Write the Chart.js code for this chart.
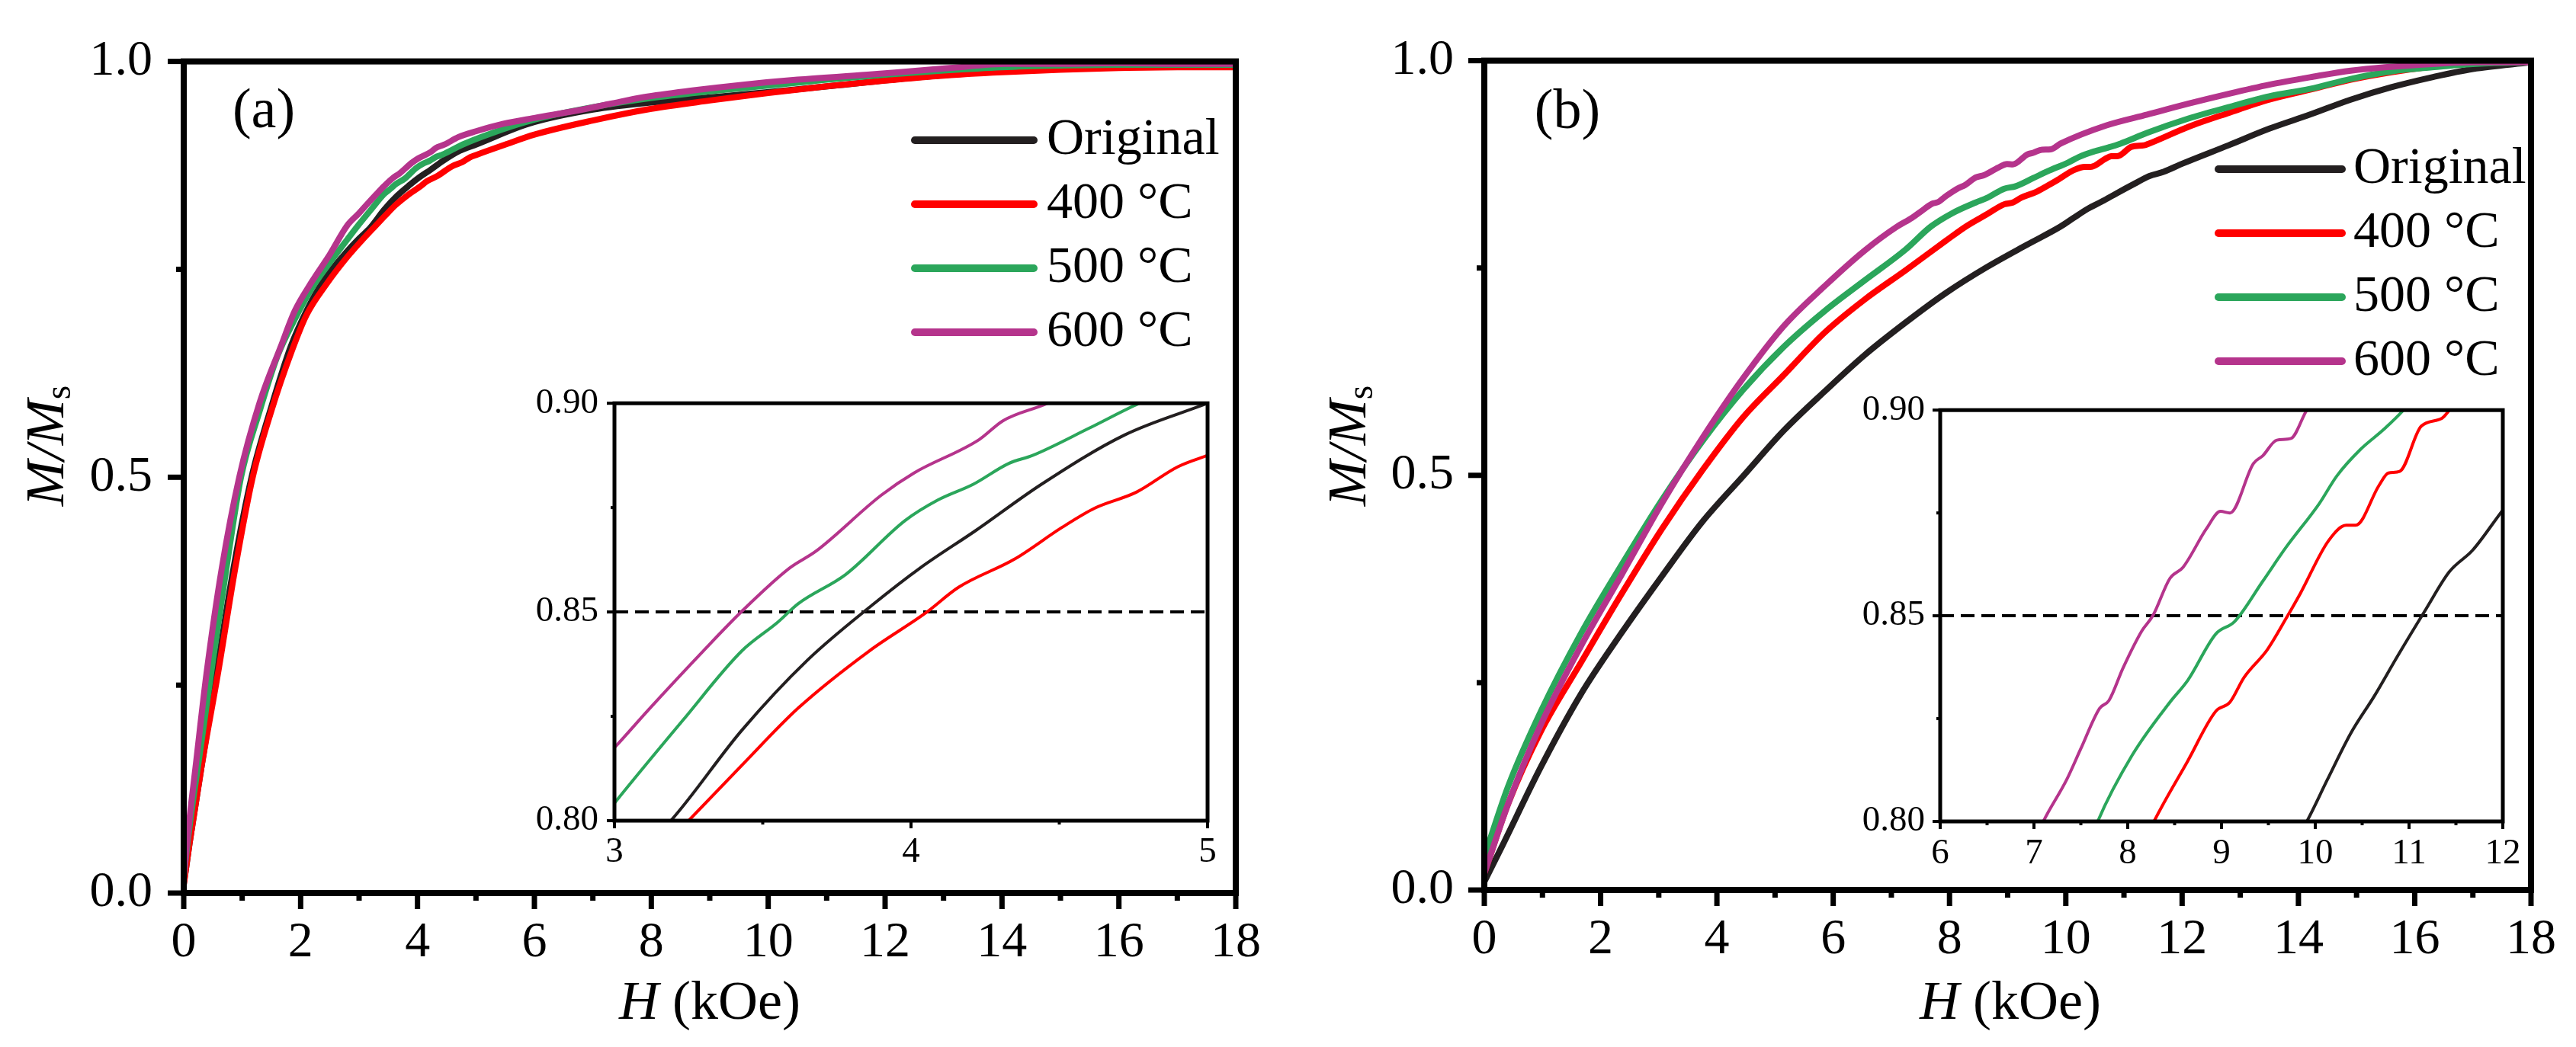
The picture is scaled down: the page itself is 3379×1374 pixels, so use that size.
<!DOCTYPE html>
<html><head><meta charset="utf-8">
<script src="https://cdn.jsdelivr.net/npm/chart.js@4.4.1/dist/chart.umd.min.js"></script>
<style>
html,body{margin:0;padding:0;background:#fff;width:3379px;height:1374px;overflow:hidden}
canvas{position:absolute}
</style></head><body>
<canvas id="ma" width="1700" height="1374" style="left:0px;top:0px;width:1700px;height:1374px"></canvas>
<canvas id="mb" width="1679" height="1374" style="left:1700px;top:0px;width:1679px;height:1374px"></canvas>
<canvas id="ia" width="950" height="700" style="left:670px;top:480px;width:950px;height:700px"></canvas>
<canvas id="ib" width="940" height="700" style="left:2390px;top:490px;width:940px;height:700px"></canvas>
<script>
// ---------- DATA ----------
const seriesLabels = ['Original', '400 \u00b0C', '500 \u00b0C', '600 \u00b0C'];
const seriesColors = ['#231f20', '#ff0000', '#2ba65b', '#b5348c'];

// Panel (a)
const Ha_orig = [0, 0.1, 0.3, 0.56, 0.85, 1.16, 1.5, 1.83, 2.1, 2.39, 2.8, 3.0, 3.19, 3.43, 3.65, 3.87, 4.03, 4.22, 4.44, 4.72, 5.0, 5.9, 7.0, 8.2, 9.2, 10.3, 11.3, 12.4, 13.5, 14.5, 15.5, 16.5, 17.5, 18];
const Ma_orig = [0.01, 0.06, 0.15, 0.264, 0.39, 0.5, 0.585, 0.657, 0.70, 0.736, 0.772, 0.787, 0.80, 0.8217, 0.8384, 0.8517, 0.8605, 0.8696, 0.8806, 0.8924, 0.90, 0.925, 0.942, 0.952, 0.958, 0.965, 0.972, 0.98, 0.986, 0.992, 0.994, 0.996, 0.996, 0.995];

const Ha_400 = [0, 0.1, 0.3, 0.6, 0.88, 1.18, 1.5, 1.85, 2.1, 2.45, 2.8, 3.05, 3.25, 3.43, 3.62, 3.86, 4.05, 4.16, 4.35, 4.51, 4.62, 4.76, 4.90, 5.0, 5.5, 6.0, 7.0, 8.0, 9.0, 10.0, 11.0, 12.0, 13.0, 14.0, 15.0, 16.0, 17.0, 18.0];
const Ma_400 = [0.01, 0.06, 0.15, 0.27, 0.39, 0.5, 0.58, 0.652, 0.695, 0.733, 0.765, 0.785, 0.80, 0.8133, 0.827, 0.8407, 0.8498, 0.8559, 0.8627, 0.8703, 0.8749, 0.8787, 0.8848, 0.8875, 0.90, 0.912, 0.929, 0.943, 0.953, 0.962, 0.97, 0.977, 0.983, 0.987, 0.99, 0.992, 0.993, 0.993];

const Ha_500 = [0, 0.1, 0.3, 0.5, 0.75, 0.98, 1.3, 1.6, 1.9, 2.2, 2.5, 2.8, 3.0, 3.23, 3.43, 3.55, 3.62, 3.78, 3.98, 4.09, 4.21, 4.33, 4.41, 4.6, 4.77, 5.2, 6.0, 7.0, 8.0, 9.0, 10.0, 11.0, 12.0, 13.0, 14.0, 15.0, 16.0, 17.0, 18.0];
const Ma_500 = [0.02, 0.08, 0.18, 0.28, 0.40, 0.5, 0.58, 0.645, 0.69, 0.728, 0.758, 0.786, 0.8042, 0.824, 0.8407, 0.8475, 0.852, 0.859, 0.8719, 0.8768, 0.8806, 0.8856, 0.8875, 0.894, 0.90, 0.912, 0.93, 0.945, 0.956, 0.964, 0.971, 0.978, 0.984, 0.989, 0.993, 0.995, 0.996, 0.996, 0.996];

const Ha_600 = [0, 0.1, 0.2, 0.39, 0.65, 0.95, 1.3, 1.66, 1.9, 2.2, 2.5, 2.8, 3.0, 3.115, 3.30, 3.43, 3.59, 3.68, 3.90, 4.01, 4.23, 4.31, 4.46, 4.7, 5.0, 5.47, 6.0, 6.74, 7.3, 7.87, 8.7, 9.57, 10.5, 11.7, 12.4, 13.1, 14.1, 15.0, 16.0, 17.0, 18.0];
const Ma_600 = [0.02, 0.09, 0.15, 0.264, 0.39, 0.5, 0.59, 0.657, 0.70, 0.736, 0.768, 0.803, 0.8175, 0.8266, 0.8407, 0.8502, 0.8605, 0.8646, 0.878, 0.8833, 0.8913, 0.8958, 0.90, 0.909, 0.916, 0.925, 0.932, 0.941, 0.949, 0.957, 0.965, 0.972, 0.978, 0.984, 0.988, 0.992, 0.997, 0.997, 0.998, 0.997, 0.997];

// Panel (b)
const Hb_orig = [0, 0.3, 0.97, 1.66, 2.36, 3.05, 3.75, 4.45, 5.15, 5.85, 6.54, 7.24, 7.94, 8.64, 9.33, 9.91, 10.13, 10.38, 10.63, 10.88, 11.18, 11.43, 11.68, 12.0, 12.8, 13.5, 14.2, 14.9, 15.6, 16.3, 17.0, 18.0];
const Mb_orig = [0.01, 0.052, 0.148, 0.236, 0.31, 0.378, 0.444, 0.499, 0.554, 0.601, 0.645, 0.684, 0.720, 0.751, 0.778, 0.80, 0.8102, 0.8215, 0.8305, 0.8403, 0.8516, 0.8607, 0.866, 0.8757, 0.898, 0.918, 0.935, 0.953, 0.968, 0.98, 0.99, 0.998];

const Hb_400 = [0, 0.41, 0.97, 1.66, 2.36, 3.06, 3.76, 4.45, 5.15, 5.85, 6.54, 7.24, 7.94, 8.28, 8.64, 8.94, 9.09, 9.24, 9.49, 9.69, 9.84, 10.14, 10.33, 10.43, 10.68, 10.78, 10.9, 11.13, 11.35, 11.43, 12.1, 12.8, 13.5, 14.2, 14.9, 15.6, 16.3, 17.0, 18.0];
const Mb_400 = [0.02, 0.104, 0.191, 0.274, 0.357, 0.436, 0.507, 0.57, 0.621, 0.672, 0.712, 0.747, 0.783, 0.80, 0.8147, 0.8268, 0.829, 0.835, 0.8418, 0.8494, 0.8554, 0.8682, 0.872, 0.872, 0.8817, 0.8847, 0.8851, 0.8961, 0.898, 0.90, 0.92, 0.937, 0.953, 0.965, 0.977, 0.986, 0.993, 0.998, 0.998];

const Hb_500 = [0, 0.41, 0.97, 1.66, 2.36, 3.06, 3.76, 4.45, 5.15, 5.85, 6.54, 7.24, 7.68, 8.05, 8.45, 8.64, 8.94, 9.14, 9.44, 9.69, 10.04, 10.23, 10.48, 10.73, 10.94, 11.4, 12.1, 12.8, 13.5, 14.2, 14.9, 15.6, 16.3, 17.0, 18.0];
const Mb_500 = [0.04, 0.125, 0.215, 0.309, 0.392, 0.471, 0.542, 0.603, 0.655, 0.698, 0.735, 0.772, 0.80, 0.8162, 0.829, 0.8343, 0.8456, 0.8486, 0.8584, 0.8667, 0.8772, 0.884, 0.8904, 0.8953, 0.90, 0.913, 0.93, 0.944, 0.957, 0.966, 0.978, 0.987, 0.992, 0.996, 0.998];

const Hb_600 = [0, 0.41, 0.97, 1.66, 2.36, 3.06, 3.76, 4.45, 5.15, 5.85, 6.54, 7.10, 7.35, 7.50, 7.70, 7.80, 7.95, 8.15, 8.27, 8.45, 8.59, 8.84, 8.99, 9.09, 9.34, 9.44, 9.59, 9.74, 9.91, 10.7, 11.4, 12.1, 12.8, 13.5, 14.2, 14.9, 16.3, 17.0, 18.0];
const Mb_600 = [0.02, 0.104, 0.199, 0.294, 0.38, 0.467, 0.546, 0.617, 0.68, 0.728, 0.771, 0.80, 0.8102, 0.8177, 0.8275, 0.8294, 0.8373, 0.8463, 0.8501, 0.8591, 0.8618, 0.8712, 0.8754, 0.875, 0.887, 0.8889, 0.8927, 0.8931, 0.90, 0.922, 0.935, 0.948, 0.96, 0.971, 0.98, 0.988, 0.996, 0.998, 0.998];

// Axis ranges / reference level
const mainXRange = [0, 18];
const mainYRange = [0, 1];
const insetAXRange = [3, 5];
const insetBXRange = [6, 12];
const insetYRange = [0.80, 0.90];
const refLevel = 0.85;

// ---------- RENDER ----------
const FONT = "'Liberation Serif','Times New Roman',serif";
Chart.defaults.font.family = FONT;
Chart.defaults.color = '#000';

function pts(H, M) { return H.map((h, i) => ({ x: h, y: M[i] })); }

function makeDatasets(sets, width) {
  return sets.map((s, i) => ({
    label: seriesLabels[i],
    data: pts(s[0], s[1]),
    borderColor: seriesColors[i],
    backgroundColor: seriesColors[i],
    borderWidth: width,
    pointRadius: 0,
    fill: false,
    cubicInterpolationMode: 'monotone',
    order: 4 - i
  }));
}

const setsA = [[Ha_orig, Ma_orig], [Ha_400, Ma_400], [Ha_500, Ma_500], [Ha_600, Ma_600]];
const setsB = [[Hb_orig, Mb_orig], [Hb_400, Mb_400], [Hb_500, Mb_500], [Hb_600, Mb_600]];

function drawRich(ctx, segs, size, x, y, rotate) {
  ctx.save();
  ctx.translate(x, y);
  if (rotate) ctx.rotate(-Math.PI / 2);
  ctx.textBaseline = 'middle';
  ctx.textAlign = 'left';
  ctx.fillStyle = '#000';
  let total = 0;
  const ms = segs.map(s => {
    const sz = s.sub ? size * 0.66 : size;
    ctx.font = (s.italic ? 'italic ' : '') + sz + 'px ' + FONT;
    const w = ctx.measureText(s.t).width;
    total += w;
    return { s, sz, w };
  });
  let cx = -total / 2;
  ms.forEach(m => {
    ctx.font = (m.s.italic ? 'italic ' : '') + m.sz + 'px ' + FONT;
    ctx.fillText(m.s.t, cx, m.s.sub ? size * 0.22 : 0);
    cx += m.w;
  });
  ctx.restore();
}

const deco = {
  id: 'deco',
  beforeDraw(chart, args, o) {
    if (o.fillArea) {
      const a = chart.chartArea, ctx = chart.ctx;
      ctx.save(); ctx.fillStyle = '#fff';
      ctx.fillRect(a.left, a.top, a.right - a.left, a.bottom - a.top);
      ctx.restore();
    }
  },
  afterDraw(chart, args, o) {
    const ctx = chart.ctx, a = chart.chartArea;
    const xs = chart.scales.x, ys = chart.scales.y;
    ctx.save();
    ctx.strokeStyle = '#000';
    ctx.lineWidth = o.tickWidth;
    ctx.lineCap = 'butt';
    xs.ticks.forEach(t => {
      const p = xs.getPixelForValue(t.value);
      const L = (t.label !== '' ? o.major : o.minor);
      ctx.beginPath(); ctx.moveTo(p, a.bottom); ctx.lineTo(p, a.bottom + L); ctx.stroke();
    });
    ys.ticks.forEach(t => {
      const p = ys.getPixelForValue(t.value);
      const L = (t.label !== '' ? o.major : o.minor);
      ctx.beginPath(); ctx.moveTo(a.left, p); ctx.lineTo(a.left - L, p); ctx.stroke();
    });
    ctx.lineWidth = o.frame;
    ctx.lineJoin = 'miter';
    ctx.strokeRect(a.left, a.top, a.right - a.left, a.bottom - a.top);
    if (o.legend) {
      const L = o.legend;
      let row = 0;
      chart.data.datasets.forEach(ds => {
        if (ds.noLegend) return;
        const y = L.y0 + row * L.dy;
        ctx.strokeStyle = ds.borderColor;
        ctx.lineWidth = L.lw;
        ctx.lineCap = 'round';
        ctx.beginPath(); ctx.moveTo(L.x1, y); ctx.lineTo(L.x2, y); ctx.stroke();
        ctx.fillStyle = '#000';
        ctx.font = L.size + 'px ' + FONT;
        ctx.textBaseline = 'middle';
        ctx.textAlign = 'left';
        ctx.fillText(ds.label, L.tx, y);
        row++;
      });
    }
    (o.texts || []).forEach(t => {
      ctx.fillStyle = '#000';
      ctx.font = t.size + 'px ' + FONT;
      ctx.textBaseline = 'middle';
      ctx.textAlign = 'center';
      ctx.fillText(t.text, t.x, t.y);
    });
    if (o.xTitle) drawRich(ctx, o.xTitle.segs, o.xTitle.size, o.xTitle.x, o.xTitle.y, false);
    if (o.yTitle) drawRich(ctx, o.yTitle.segs, o.yTitle.size, o.yTitle.x, o.yTitle.y, true);
    ctx.restore();
  }
};

function scales(cfg) {
  return {
    x: {
      type: 'linear', min: cfg.xr[0], max: cfg.xr[1],
      afterFit(s) { s.height = cfg.xh; },
      grid: { display: false, drawTicks: false }, border: { display: false },
      ticks: { stepSize: cfg.xstep, autoSkip: false, maxRotation: 0, minRotation: 0, padding: cfg.xpad, color: '#000',
        font: { family: FONT, size: cfg.fs }, callback: cfg.xcb }
    },
    y: {
      type: 'linear', min: cfg.yr[0], max: cfg.yr[1],
      afterFit(s) { s.width = cfg.yw; },
      grid: { display: false, drawTicks: false }, border: { display: false },
      ticks: { stepSize: cfg.ystep, autoSkip: false, padding: cfg.ypad, color: '#000',
        font: { family: FONT, size: cfg.fs }, callback: cfg.ycb }
    }
  };
}

const evenInt = v => (Math.round(v) % 2 === 0 ? String(Math.round(v)) : '');
const mainY = v => (Math.round(v / 0.25) % 2 === 0 ? v.toFixed(1) : '');
const halfInt = v => (Math.abs(v - Math.round(v)) < 1e-6 ? String(Math.round(v)) : '');
const insetY = v => (Math.round(v / 0.025) % 2 === 0 ? v.toFixed(2) : '');

const xTitleSegs = [{ t: 'H', italic: true }, { t: ' (kOe)' }];
const yTitleSegs = [{ t: 'M', italic: true }, { t: '/', italic: true }, { t: 'M', italic: true }, { t: 's', sub: true }];

function mainChart(id, sets, p) {
  return new Chart(document.getElementById(id), {
    type: 'line',
    data: { datasets: makeDatasets(sets, 8) },
    options: {
      responsive: false, animation: false, devicePixelRatio: 1,
      layout: { padding: { left: 0, top: p.top, right: p.right, bottom: 0 } },
      plugins: {
        legend: { display: false }, tooltip: { enabled: false },
        deco: {
          frame: 8, tickWidth: 7, major: 21, minor: 10,
          legend: p.legend,
          texts: [{ text: p.tag, x: p.tagX, y: p.tagY, size: 74 }],
          xTitle: { segs: xTitleSegs, size: 72, x: p.xtX, y: 1318 },
          yTitle: { segs: yTitleSegs, size: 72, x: p.ytX, y: 585 }
        }
      },
      scales: scales({ xr: mainXRange, yr: mainYRange, xh: p.xh, yw: p.yw, xstep: 1, ystep: 0.25,
        xpad: 26, ypad: p.ypad, fs: 66, xcb: evenInt, ycb: mainY })
    },
    plugins: [deco]
  });
}

function insetChart(id, sets, xr, p) {
  const ds = makeDatasets(sets, 4);
  ds.push({ label: 'ref', noLegend: true, data: [{ x: xr[0], y: refLevel }, { x: xr[1], y: refLevel }],
    borderColor: '#000', borderWidth: 4, borderDash: [18, 9], pointRadius: 0, order: 9 });
  return new Chart(document.getElementById(id), {
    type: 'line',
    data: { datasets: ds },
    options: {
      responsive: false, animation: false, devicePixelRatio: 1,
      layout: { padding: { left: 0, top: p.top, right: p.right, bottom: 0 } },
      plugins: {
        legend: { display: false }, tooltip: { enabled: false },
        deco: { frame: 5, tickWidth: 4, major: 10, minor: 5, fillArea: true }
      },
      scales: scales({ xr: xr, yr: insetYRange, xh: p.xh, yw: p.yw, xstep: 0.5, ystep: 0.025,
        xpad: p.xpad, ypad: p.ypad, fs: 47, xcb: halfInt, ycb: insetY })
    },
    plugins: [deco]
  });
}

mainChart('ma', setsA, {
  top: 57, right: 1700 - 1621, yw: 241, xh: 1374 - 1172, ypad: 41,
  tag: '(a)', tagX: 346, tagY: 148, xtX: 931, ytX: 64,
  legend: { x1: 1200, x2: 1356, tx: 1373, y0: 184, dy: 84, lw: 10, size: 68 }
});
mainChart('mb', setsB, {
  top: 57, right: 1679 - 1628, yw: 247, xh: 1374 - 1168, ypad: 40,
  tag: '(b)', tagX: 356, tagY: 149, xtX: 937, ytX: 72,
  legend: { x1: 1210, x2: 1372, tx: 1387, y0: 222, dy: 84, lw: 10, size: 68 }
});
insetChart('ia', setsA, insetAXRange, { top: 42, right: 950 - (1584 - 670), yw: 806 - 670, xh: 700 - 597, xpad: 13, ypad: 21 });
insetChart('ib', setsB, insetBXRange, { top: 45, right: 940 - (3283 - 2390), yw: 2545 - 2390, xh: 700 - 588, xpad: 14, ypad: 20 });
</script>
</body></html>
